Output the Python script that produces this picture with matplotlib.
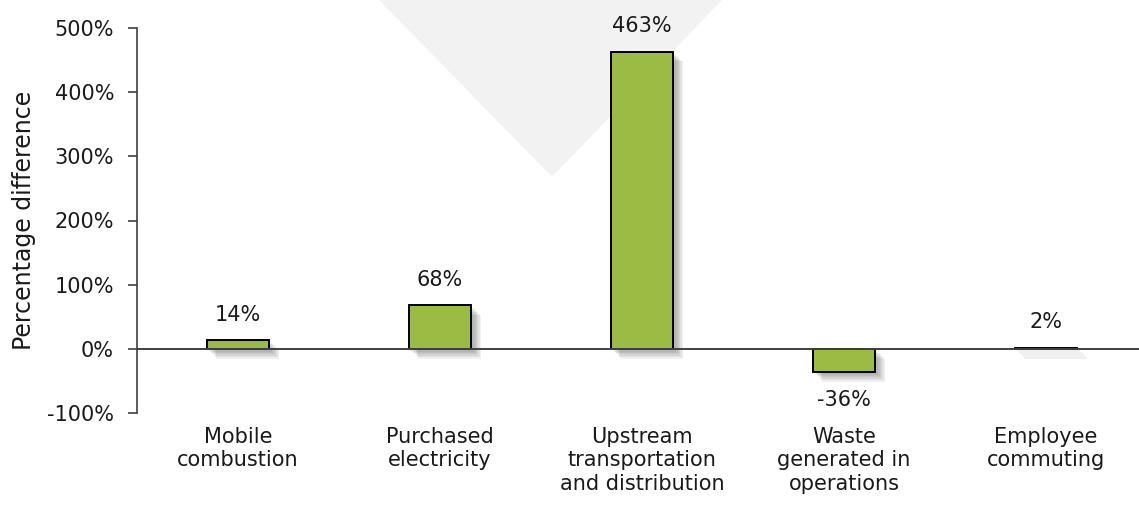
import numpy as np
import matplotlib.pyplot as plt
import matplotlib.patheffects as pe
from matplotlib.patches import Polygon

# Data
categories = ['Mobile\ncombustion', 'Purchased\nelectricity', 'Upstream\ntransportation\nand distribution',
              'Waste\ngenerated in\noperations', 'Employee\ncommuting']
values = [14, 68, 463, -36, 2]
yticks = [-100, 0, 100, 200, 300, 400, 500]

plt.rcParams['font.family'] = ['DejaVu Sans']
text_col = '#1a1a1a'
bar_col = '#9bbb44'

fig = plt.figure(figsize=(11.39, 5.14), dpi=100)

# light grey triangle in the background
tri = Polygon([[373 / 1139, 1.02], [728 / 1139, 1.02], [552 / 1139, 1 - 173 / 514]],
              closed=True, transform=fig.transFigure, facecolor='#f2f2f2', edgecolor='#f2f2f2',
              linewidth=4, joinstyle='round', zorder=0)
fig.patches.append(tri)

ax = fig.add_axes([137 / 1139, 1 - 413 / 514, 1 - 137 / 1139, (413 - 28) / 514])
ax.set_zorder(2)
ax.patch.set_alpha(0)

x = np.arange(len(categories))
# soft shadow: several faint offset layers
shadow = [pe.SimplePatchShadow(offset=(o, -o), shadow_rgbFace='#444444', alpha=0.08) for o in (2, 3, 4, 5, 6, 7)]
shadow.append(pe.Normal())
bars = ax.bar(x, values, width=0.31, color=bar_col, edgecolor='black', linewidth=1.4, zorder=3)
for b in bars:
    b.set_path_effects(shadow)

for xi, v in zip(x, values):
    if v >= 0:
        ax.annotate(f'{v}%', (xi, v), xytext=(0, 11), textcoords='offset points',
                    ha='center', va='bottom', fontsize=15, color=text_col)
    else:
        ax.annotate(f'{v}%', (xi, v), xytext=(0, -13), textcoords='offset points',
                    ha='center', va='top', fontsize=15, color=text_col)

ax.axhline(0, color='#404040', linewidth=1.4, zorder=4)

ax.set_ylim(-100, 500)
ax.set_xlim(-0.5, 4.46)
ax.set_yticks(yticks)
ax.set_yticklabels([f'{t}%' for t in yticks], fontsize=15, color=text_col)
ax.tick_params(axis='y', length=6.5, width=1.2, color='#404040', pad=10)

ax.set_xticks(x)
ax.set_xticklabels(categories, fontsize=15, color=text_col, linespacing=1.22)
ax.tick_params(axis='x', length=0, pad=10)

for s in ['top', 'right', 'bottom']:
    ax.spines[s].set_visible(False)
ax.spines['left'].set_color('#404040')
ax.spines['left'].set_linewidth(1.2)

ax.set_ylabel('Percentage difference', fontsize=17, color=text_col, labelpad=8)

fig.savefig('out.png', dpi=100)
